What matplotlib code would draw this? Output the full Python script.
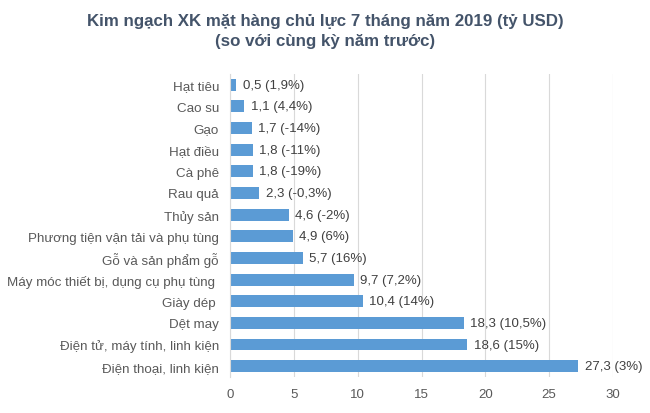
import matplotlib.pyplot as plt

plt.rcParams['font.family'] = ['Liberation Sans', 'DejaVu Sans']

categories = ['Hạt tiêu', 'Cao su', 'Gạo', 'Hạt điều', 'Cà phê', 'Rau quả', 'Thủy sản',
              'Phương tiện vận tải và phụ tùng', 'Gỗ và sản phẩm gỗ',
              'Máy móc thiết bị, dụng cụ phụ tùng ', 'Giày dép ', 'Dệt may',
              'Điện tử, máy tính, linh kiện', 'Điện thoại, linh kiện']
values = [0.5, 1.1, 1.7, 1.8, 1.8, 2.3, 4.6, 4.9, 5.7, 9.7, 10.4, 18.3, 18.6, 27.3]
changes = ['1,9%', '4,4%', '-14%', '-11%', '-19%', '-0,3%', '-2%', '6%', '16%',
           '7,2%', '14%', '10,5%', '15%', '3%']
xticks = [0, 5, 10, 15, 20, 25, 30]

fig = plt.figure(figsize=(6.5, 4.14), dpi=100)
ax = fig.add_axes([0.354, 0.087, 0.589, 0.732])

y = list(range(len(categories)))
ax.barh(y, values, height=0.55, color='#5B9BD5', zorder=2)
for yi, v, c in zip(y, values, changes):
    txt = f"{v:.1f}".replace('.', ',') + f" ({c})"
    ax.text(v + 0.5, yi, txt, va='center', ha='left', fontsize=9.5, color='#404040', clip_on=False)

ax.set_yticks(y)
ax.set_yticklabels(categories)
ax.set_ylim(len(categories) - 0.5, -0.5)
ax.set_xlim(0, 30)
ax.set_xticks(xticks)
ax.grid(axis='x', color='#D9D9D9', linewidth=0.8, zorder=0)
for s in ['top', 'right', 'bottom']:
    ax.spines[s].set_visible(False)
ax.spines['left'].set_color('#D9D9D9')
ax.tick_params(axis='both', length=0, labelsize=9.6, colors='#595959')
ax.tick_params(axis='y', pad=8)
ax.tick_params(axis='x', labelsize=9.5, pad=8)

fig.suptitle('Kim ngạch XK mặt hàng chủ lực 7 tháng năm 2019 (tỷ USD)\n(so với cùng kỳ năm trước)',
             x=0.5, y=0.965, fontsize=12.2, fontweight='bold', color='#44546A', linespacing=1.35)

fig.savefig('out.png', dpi=100)
